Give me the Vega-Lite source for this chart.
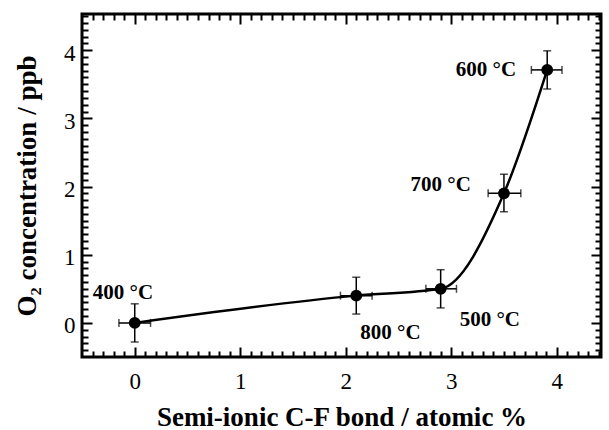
{
  "$schema": "https://vega.github.io/schema/vega-lite/v6.json",
  "width": 519,
  "height": 343,
  "autosize": "none",
  "padding": {"left": 82, "top": 14, "right": 8, "bottom": 73},
  "background": "white",
  "config": {
    "view": {"stroke": "black", "strokeWidth": 3},
    "font": "Liberation Serif",
    "axis": {"grid": false, "labelFont": "Liberation Serif", "titleFont": "Liberation Serif", "labelColor": "black", "titleColor": "black", "tickColor": "black", "domainColor": "black"}
  },
  "data": {
    "values": [
      {"x": 0, "y": 0, "xlo": -0.15, "xhi": 0.15, "ylo": -0.28, "yhi": 0.28, "label": "400 °C"},
      {"x": 2.1, "y": 0.4, "xlo": 1.95, "xhi": 2.25, "ylo": 0.13, "yhi": 0.67, "label": "800 °C"},
      {"x": 2.9, "y": 0.5, "xlo": 2.76, "xhi": 3.05, "ylo": 0.22, "yhi": 0.78, "label": "500 °C"},
      {"x": 3.5, "y": 1.9, "xlo": 3.35, "xhi": 3.66, "ylo": 1.63, "yhi": 2.18, "label": "700 °C"},
      {"x": 3.91, "y": 3.71, "xlo": 3.76, "xhi": 4.05, "ylo": 3.43, "yhi": 3.99, "label": "600 °C"}
    ]
  },
  "resolve": {"axis": {"x": "independent", "y": "independent"}},
  "layer": [
    {
      "mark": {"type": "line", "interpolate": "monotone", "color": "black", "strokeWidth": 2.5},
      "encoding": {
        "x": {"field": "x", "type": "quantitative", "scale": {"domain": [-0.5, 4.42], "nice": false, "zero": false},
          "axis": {"orient": "bottom", "ticks": true, "tickWidth": 2, "domain": false, "zindex": 1,
            "tickSize": {"condition": {"test": "datum.value % 1 == 0", "value": -10}, "value": -6},
            "values": [-0.4, -0.3, -0.2, -0.1, 0, 0.1, 0.2, 0.3, 0.4, 0.5, 0.6, 0.7, 0.8, 0.9, 1, 1.1, 1.2, 1.3, 1.4, 1.5, 1.6, 1.7, 1.8, 1.9, 2, 2.1, 2.2, 2.3, 2.4, 2.5, 2.6, 2.7, 2.8, 2.9, 3, 3.1, 3.2, 3.3, 3.4, 3.5, 3.6, 3.7, 3.8, 3.9, 4, 4.1, 4.2, 4.3, 4.4],
            "labelExpr": "datum.value % 1 == 0 ? format(datum.value, 'd') : ''", "labelOverlap": false, "labelFlush": false,
            "labelFontSize": 23, "labelPadding": 23, "labelFontWeight": "normal",
            "title": "Semi-ionic C-F bond / atomic %", "titleFontSize": 27, "titleFontWeight": "bold", "titlePadding": 7}},
        "y": {"field": "y", "type": "quantitative", "scale": {"domain": [-0.5, 4.53], "nice": false, "zero": false},
          "axis": {"orient": "left", "ticks": true, "tickWidth": 2, "domain": false, "zindex": 1,
            "tickSize": {"condition": {"test": "datum.value % 1 == 0", "value": -10}, "value": -6},
            "values": [-0.4, -0.3, -0.2, -0.1, 0, 0.1, 0.2, 0.3, 0.4, 0.5, 0.6, 0.7, 0.8, 0.9, 1, 1.1, 1.2, 1.3, 1.4, 1.5, 1.6, 1.7, 1.8, 1.9, 2, 2.1, 2.2, 2.3, 2.4, 2.5, 2.6, 2.7, 2.8, 2.9, 3, 3.1, 3.2, 3.3, 3.4, 3.5, 3.6, 3.7, 3.8, 3.9, 4, 4.1, 4.2, 4.3, 4.4, 4.5],
            "labelExpr": "datum.value % 1 == 0 ? format(datum.value, 'd') : ''", "labelOverlap": false, "labelFlush": false,
            "labelFontSize": 23, "labelPadding": 17, "labelOffset": 3,
            "title": "O₂ concentration / ppb", "titleFontSize": 27, "titleFontWeight": "bold", "titlePadding": 22}}
      }
    },
    {
      "mark": {"type": "rule", "color": "black", "strokeWidth": 1.5},
      "encoding": {
        "x": {"field": "xlo", "type": "quantitative", "scale": {"domain": [-0.5, 4.42], "nice": false, "zero": false},
          "axis": {"orient": "top", "ticks": true, "tickWidth": 2, "domain": false, "labels": false, "title": null, "zindex": 1,
            "tickSize": {"condition": {"test": "datum.value % 1 == 0", "value": -10}, "value": -6},
            "values": [-0.4, -0.3, -0.2, -0.1, 0, 0.1, 0.2, 0.3, 0.4, 0.5, 0.6, 0.7, 0.8, 0.9, 1, 1.1, 1.2, 1.3, 1.4, 1.5, 1.6, 1.7, 1.8, 1.9, 2, 2.1, 2.2, 2.3, 2.4, 2.5, 2.6, 2.7, 2.8, 2.9, 3, 3.1, 3.2, 3.3, 3.4, 3.5, 3.6, 3.7, 3.8, 3.9, 4, 4.1, 4.2, 4.3, 4.4]}},
        "x2": {"field": "xhi"},
        "y": {"field": "y", "type": "quantitative", "scale": {"domain": [-0.5, 4.53], "nice": false, "zero": false},
          "axis": {"orient": "right", "ticks": true, "tickWidth": 2, "domain": false, "labels": false, "title": null, "zindex": 1,
            "tickSize": {"condition": {"test": "datum.value % 1 == 0", "value": -10}, "value": -6},
            "values": [-0.4, -0.3, -0.2, -0.1, 0, 0.1, 0.2, 0.3, 0.4, 0.5, 0.6, 0.7, 0.8, 0.9, 1, 1.1, 1.2, 1.3, 1.4, 1.5, 1.6, 1.7, 1.8, 1.9, 2, 2.1, 2.2, 2.3, 2.4, 2.5, 2.6, 2.7, 2.8, 2.9, 3, 3.1, 3.2, 3.3, 3.4, 3.5, 3.6, 3.7, 3.8, 3.9, 4, 4.1, 4.2, 4.3, 4.4, 4.5]}}
      }
    },
    {
      "mark": {"type": "rule", "color": "black", "strokeWidth": 1.5},
      "encoding": {
        "x": {"field": "x", "type": "quantitative", "scale": {"domain": [-0.5, 4.42], "nice": false, "zero": false}, "axis": null},
        "y": {"field": "ylo", "type": "quantitative", "scale": {"domain": [-0.5, 4.53], "nice": false, "zero": false}, "axis": null},
        "y2": {"field": "yhi"}
      }
    },
    {
      "mark": {"type": "tick", "orient": "horizontal", "color": "black", "thickness": 1.5, "size": 8},
      "encoding": {
        "x": {"field": "x", "type": "quantitative", "scale": {"domain": [-0.5, 4.42], "nice": false, "zero": false}, "axis": null},
        "y": {"field": "yhi", "type": "quantitative", "scale": {"domain": [-0.5, 4.53], "nice": false, "zero": false}, "axis": null}
      }
    },
    {
      "mark": {"type": "tick", "orient": "horizontal", "color": "black", "thickness": 1.5, "size": 8},
      "encoding": {
        "x": {"field": "x", "type": "quantitative", "scale": {"domain": [-0.5, 4.42], "nice": false, "zero": false}, "axis": null},
        "y": {"field": "ylo", "type": "quantitative", "scale": {"domain": [-0.5, 4.53], "nice": false, "zero": false}, "axis": null}
      }
    },
    {
      "mark": {"type": "tick", "orient": "vertical", "color": "black", "thickness": 1.5, "size": 8},
      "encoding": {
        "x": {"field": "xlo", "type": "quantitative", "scale": {"domain": [-0.5, 4.42], "nice": false, "zero": false}, "axis": null},
        "y": {"field": "y", "type": "quantitative", "scale": {"domain": [-0.5, 4.53], "nice": false, "zero": false}, "axis": null}
      }
    },
    {
      "mark": {"type": "tick", "orient": "vertical", "color": "black", "thickness": 1.5, "size": 8},
      "encoding": {
        "x": {"field": "xhi", "type": "quantitative", "scale": {"domain": [-0.5, 4.42], "nice": false, "zero": false}, "axis": null},
        "y": {"field": "y", "type": "quantitative", "scale": {"domain": [-0.5, 4.53], "nice": false, "zero": false}, "axis": null}
      }
    },
    {
      "mark": {"type": "circle", "color": "black", "size": 140, "opacity": 1},
      "encoding": {
        "x": {"field": "x", "type": "quantitative", "scale": {"domain": [-0.5, 4.42], "nice": false, "zero": false}, "axis": null},
        "y": {"field": "y", "type": "quantitative", "scale": {"domain": [-0.5, 4.53], "nice": false, "zero": false}, "axis": null}
      }
    },
    {
      "transform": [{"filter": "datum.label == '600 °C'"}],
      "mark": {"type": "text", "font": "Liberation Serif", "fontWeight": "bold", "fontSize": 21, "color": "black", "align": "right", "baseline": "middle", "dx": -31, "dy": 0},
      "encoding": {
        "x": {"field": "x", "type": "quantitative", "scale": {"domain": [-0.5, 4.42], "nice": false, "zero": false}, "axis": null},
        "y": {"field": "y", "type": "quantitative", "scale": {"domain": [-0.5, 4.53], "nice": false, "zero": false}, "axis": null},
        "text": {"field": "label"}
      }
    },
    {
      "transform": [{"filter": "datum.label == '700 °C'"}],
      "mark": {"type": "text", "font": "Liberation Serif", "fontWeight": "bold", "fontSize": 21, "color": "black", "align": "right", "baseline": "middle", "dx": -33, "dy": -8},
      "encoding": {
        "x": {"field": "x", "type": "quantitative", "scale": {"domain": [-0.5, 4.42], "nice": false, "zero": false}, "axis": null},
        "y": {"field": "y", "type": "quantitative", "scale": {"domain": [-0.5, 4.53], "nice": false, "zero": false}, "axis": null},
        "text": {"field": "label"}
      }
    },
    {
      "transform": [{"filter": "datum.label == '400 °C'"}],
      "mark": {"type": "text", "font": "Liberation Serif", "fontWeight": "bold", "fontSize": 21, "color": "black", "align": "left", "baseline": "middle", "dx": -42, "dy": -30},
      "encoding": {
        "x": {"field": "x", "type": "quantitative", "scale": {"domain": [-0.5, 4.42], "nice": false, "zero": false}, "axis": null},
        "y": {"field": "y", "type": "quantitative", "scale": {"domain": [-0.5, 4.53], "nice": false, "zero": false}, "axis": null},
        "text": {"field": "label"}
      }
    },
    {
      "transform": [{"filter": "datum.label == '800 °C'"}],
      "mark": {"type": "text", "font": "Liberation Serif", "fontWeight": "bold", "fontSize": 21, "color": "black", "align": "left", "baseline": "middle", "dx": 4, "dy": 37},
      "encoding": {
        "x": {"field": "x", "type": "quantitative", "scale": {"domain": [-0.5, 4.42], "nice": false, "zero": false}, "axis": null},
        "y": {"field": "y", "type": "quantitative", "scale": {"domain": [-0.5, 4.53], "nice": false, "zero": false}, "axis": null},
        "text": {"field": "label"}
      }
    },
    {
      "transform": [{"filter": "datum.label == '500 °C'"}],
      "mark": {"type": "text", "font": "Liberation Serif", "fontWeight": "bold", "fontSize": 21, "color": "black", "align": "left", "baseline": "middle", "dx": 19, "dy": 31},
      "encoding": {
        "x": {"field": "x", "type": "quantitative", "scale": {"domain": [-0.5, 4.42], "nice": false, "zero": false}, "axis": null},
        "y": {"field": "y", "type": "quantitative", "scale": {"domain": [-0.5, 4.53], "nice": false, "zero": false}, "axis": null},
        "text": {"field": "label"}
      }
    }
  ]
}
